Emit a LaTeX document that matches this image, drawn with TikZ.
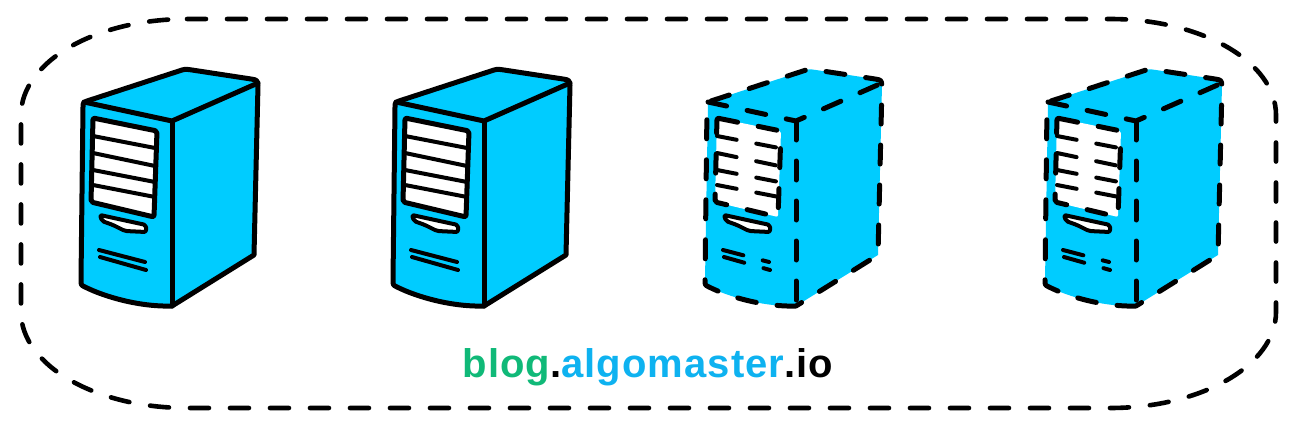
\documentclass[tikz,border=0pt]{standalone}
\usepackage{fontspec}
\setsansfont{Liberation Sans}[LetterSpace=2.7]
\usetikzlibrary{positioning}
\definecolor{srvblue}{RGB}{0,204,255}
\definecolor{tgreen}{RGB}{16,185,120}
\definecolor{tblue}{RGB}{14,178,240}

\begin{document}
\begin{tikzpicture}[
  x=1pt, y=-1pt,
  outer/.style = {line width=4.6, line cap=round, dash pattern=on 19 off 21},
  edge/.style = {line width=5, line cap=round, line join=round},
  slat/.style = {line width=4, line cap=round},
  vent/.style = {line width=4, line cap=round},
  dedge/.style = {edge/.style = {line width=5, line cap=round, line join=round, dash pattern=on 19 off 21},
    slat/.style = {line width=4, line cap=round, dash pattern=on 20 off 20 on 20 off 100},
    vent/.style = {line width=4, line cap=round, dash pattern=on 21 off 20 on 8 off 100}},
  pics/server/.style = {code = {
    \fill[srvblue] (84,102) -- (179,71) .. controls (185,69) .. (192,70) -- (251,79)
      .. controls (257,80) .. (258,85) -- (254,255) -- (172,306)
      .. controls (140,307) and (105,297) .. (85,287) .. controls (81,285) .. (81,280) -- cycle;
    \draw[edge] (172,306) .. controls (140,307) and (105,297) .. (85,287)
      .. controls (81,285) .. (81,280) -- (83,107) .. controls (83,103) .. (87,101)
      -- (179,71) .. controls (185,69) .. (192,70) -- (251,79)
      .. controls (257,80) .. (258,85) -- (254,255) -- (172,306);
    \draw[edge] (84,102) -- (172,121) -- (258,83);
    \draw[edge] (172,121) -- (172,306);
    \draw[edge, fill=white, rounded corners=2] (93,118) -- (157,131) -- (154,217) -- (91,202) -- cycle;
    \foreach \ya/\yb in {136/148, 153/166, 170/182, 185/197}
      \draw[slat] (93,\ya) -- (155,\yb);
    \draw[line width=4, fill=white, rounded corners=2, line join=round]
      (100,215) -- (146,225) -- (146,232) -- (125,231) -- (113,225) -- (102,221) -- cycle;
    \draw[vent] (99,250) -- (145,262);
    \draw[vent] (100,257) -- (146,270);
  }},
  ]
  \useasboundingbox (0,0) rectangle (1296,428);
  \draw[outer] (187,19) -- (1110,19) arc[start angle=-90, end angle=0, x radius=166, y radius=96]
    -- (1276,312) arc[start angle=0, end angle=90, x radius=166, y radius=96]
    -- (187,408) arc[start angle=90, end angle=180, x radius=166, y radius=96]
    -- (21,115) arc[start angle=180, end angle=270, x radius=166, y radius=96];
  \pic (srv1) at (0,0) {server};
  \pic (srv2) at (312,0) {server};
  \pic[dedge] (srv3) at (624,0) {server};
  \pic[dedge] (srv4) at (964,0) {server};
  \node[font=\sffamily\bfseries\fontsize{40}{42}\selectfont, inner sep=0, anchor=base] (site) at (648,377)
    {\textcolor{tgreen}{blog}.\textcolor{tblue}{algomaster}.io};
\end{tikzpicture}
\end{document}
